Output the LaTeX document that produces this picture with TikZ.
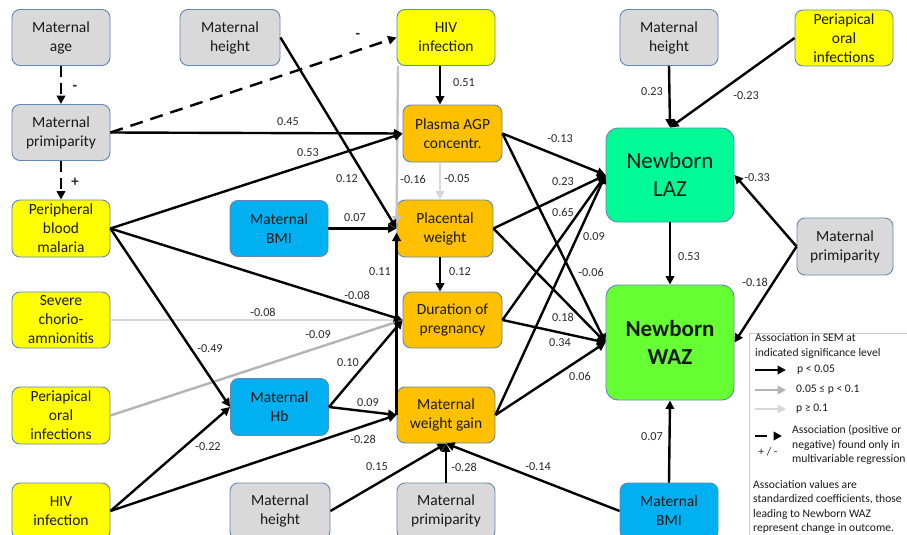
\documentclass[tikz,border=0pt]{standalone}
\usepackage{fontspec}
\setmainfont{Carlito}
\usetikzlibrary{arrows.meta}
\definecolor{cgray}{RGB}{217,217,217}
\definecolor{cyel}{RGB}{255,255,0}
\definecolor{corange}{RGB}{255,192,0}
\definecolor{cblue}{RGB}{0,176,240}
\definecolor{claz}{RGB}{0,250,150}
\definecolor{cwaz}{RGB}{102,255,51}
\definecolor{cbord}{RGB}{100,135,180}
\definecolor{ctext}{RGB}{25,25,25}
\definecolor{clab}{RGB}{40,40,40}
\definecolor{gmed}{RGB}{180,180,180}
\definecolor{gmid}{RGB}{196,196,196}
\definecolor{glight}{RGB}{216,216,216}
\definecolor{legbd}{RGB}{200,200,200}
\newcommand{\mynodefont}{\fontsize{15.5}{19}\selectfont}
\newcommand{\mybigfont}{\fontsize{23}{28}\selectfont}
\newcommand{\mylabfont}{\fontsize{12.2}{14}\selectfont}
\newcommand{\mylegfont}{\fontsize{11.6}{14}\selectfont}
\tikzset{
  box/.style={rounded corners=8pt, draw=cbord, line width=0.9pt, minimum width=98pt, minimum height=56pt, align=center, font=\mynodefont, text=ctext, inner sep=1pt},
  gbox/.style={box, fill=cgray},
  ybox/.style={box, fill=cyel},
  obox/.style={box, fill=corange},
  bbox/.style={box, fill=cblue},
  arr/.style={line width=2.4pt, -{Triangle[length=8.5pt,width=8.5pt]}},
  darr/.style={arr, dash pattern=on 11pt off 6pt},
  ldarr/.style={arr, dash pattern=on 13pt off 8pt},
  lab/.style={font=\mylabfont, text=clab, inner sep=0pt},
  legt/.style={font=\mylegfont, text=ctext, inner sep=0pt, anchor=west},
}
\begin{document}
\begin{tikzpicture}[x=1pt,y=-1pt]
\useasboundingbox (0,0) rectangle (907,535);
\fill[white] (0,0) rectangle (907,535);
% left column
\node[gbox] (age) at (61,37.5) {Maternal\\age};
\node[gbox] (prim1) at (61,132.5) {Maternal\\primiparity};
\node[ybox, minimum height=57pt] (mal) at (61,228.5) {Peripheral\\blood\\malaria};
\node[ybox] (chor) at (61,320) {Severe\\chorio-\\amnionitis};
\node[ybox, minimum height=57pt] (peri1) at (61,415.5) {Periapical\\oral\\infections};
\node[ybox] (hiv1) at (61,511) {HIV\\infection};
% second column
\node[gbox, minimum width=100pt] (ht1) at (230,37.5) {Maternal\\height};
\node[bbox] (bmi1) at (279,228.5) {Maternal\\BMI};
\node[bbox, minimum height=57pt] (hb) at (279.5,407) {Maternal\\Hb};
\node[gbox, minimum width=100pt] (ht2) at (280,511) {Maternal\\height};
% third column
\node[ybox] (hiv2) at (446,37.5) {HIV\\infection};
\node[obox, minimum width=99pt, minimum height=57pt] (agp) at (452.5,133.5) {Plasma AGP\\concentr.};
\node[obox, minimum width=96pt, minimum height=57pt] (plac) at (445,228.5) {Placental\\weight};
\node[obox, minimum width=99pt] (dur) at (452.5,320) {Duration of\\pregnancy};
\node[obox] (wg) at (446,415) {Maternal\\weight gain};
\node[gbox] (prim2) at (446,511) {Maternal\\primiparity};
% outcome column
\node[gbox] (ht3) at (669,37.5) {Maternal\\height};
\node[box, fill=claz, minimum width=128pt, minimum height=94pt, font=\mybigfont, rounded corners=12pt] (laz) at (670,175) {Newborn\\LAZ};
\node[box, fill=cwaz, minimum width=128pt, minimum height=115pt, font=\mybigfont\bfseries, rounded corners=12pt] (waz) at (670,342.5) {Newborn\\WAZ};
\node[bbox] (bmi2) at (669,511) {Maternal\\BMI};
% right column
\node[ybox] (peri2) at (844,38) {Periapical\\oral\\infections};
\node[gbox, minimum width=96pt, minimum height=57pt] (prim3) at (845,246.5) {Maternal\\primiparity};
% helper coordinates for vertical connectors
\coordinate (x440) at (440,0);
\coordinate (x398) at (398,0);
% dashed connectors
\draw[darr] (age) -- (prim1);
\draw[darr] (prim1) -- (mal);
\draw[ldarr] (prim1.east) -- (hiv2.west);
% grey connectors
\draw[arr, gmid] (x398 |- hiv2.south) -- ([yshift=4pt]plac.west);
\draw[arr, glight] (x440 |- agp.south) -- (x440 |- plac.north);
\draw[arr, glight] (chor.east) -- (dur.west);
\draw[arr, gmed] (peri1.east) -- (dur.west);
% black connectors
\draw[arr] (prim1.east) -- (agp.west);
\draw[arr] (mal.east) -- (agp.west);
\draw[arr] (ht1.east) -- (plac.west);
\draw[arr] (bmi1.east) -- (plac.west);
\draw[arr] (mal.east) -- (dur.west);
\draw[arr] (mal.east) -- (hb.west);
\draw[arr] (hb.east) -- (dur.west);
\draw[arr] (hb.east) -- (wg.west);
\draw[arr] (hiv1.east) -- (hb.west);
\draw[arr] (hiv1.east) -- (wg.west);
\draw[arr] (wg.west) -- ([yshift=-4pt]plac.west);
\draw[arr] (ht2.east) -- (wg.south);
\draw[arr] (prim2.north) -- (wg.south);
\draw[arr] (bmi2.west) -- (wg.south);
\draw[arr] (x440 |- hiv2.south) -- (x440 |- agp.north);
\draw[arr] (x440 |- plac.south) -- (x440 |- dur.north);
\draw[arr] (agp.east) -- (laz.west);
\draw[arr] (agp.east) -- (waz.west);
\draw[arr] (plac.east) -- (laz.west);
\draw[arr] (plac.east) -- (waz.west);
\draw[arr] (dur.east) -- (laz.west);
\draw[arr] (dur.east) -- (waz.west);
\draw[arr] (wg.east) -- (laz.west);
\draw[arr] (wg.east) -- (waz.west);
\draw[arr] (laz.south) -- (waz.north);
\draw[arr] (ht3.south) -- (laz.north);
\draw[arr] (peri2.west) -- (laz.north);
\draw[arr] (prim3.west) -- (laz.east);
\draw[arr] (prim3.west) -- (waz.east);
\draw[arr] (bmi2.north) -- (waz.south);
% labels
\node[lab, font=\fontsize{15}{15}\selectfont\bfseries] (s1) at (75,88) {-};
\node[lab, font=\fontsize{15}{15}\selectfont\bfseries] (s2) at (75,182) {+};
\node[lab, font=\fontsize{15}{15}\selectfont\bfseries] (s3) at (358,36) {-};
\node[lab] (n1) at (288,122) {0.45};
\node[lab] (n2) at (308,153) {0.53};
\node[lab] (n3) at (347,179) {0.12};
\node[lab] (n4) at (413,179) {-0.16};
\node[lab] (n5) at (457,179) {-0.05};
\node[lab] (n6) at (355,218) {0.07};
\node[lab] (n7) at (380,272) {0.11};
\node[lab] (n8) at (357,295) {-0.08};
\node[lab] (n9) at (263,312) {-0.08};
\node[lab] (n10) at (318,335) {-0.09};
\node[lab] (n11) at (210,349) {-0.49};
\node[lab] (n12) at (348,363) {0.10};
\node[lab] (n13) at (368,403) {0.09};
\node[lab] (n14) at (363,439) {-0.28};
\node[lab] (n15) at (208,447) {-0.22};
\node[lab] (n16) at (377,467) {0.15};
\node[lab] (n17) at (464,467) {-0.28};
\node[lab] (n18) at (538,467) {-0.14};
\node[lab] (n19) at (464,83) {0.51};
\node[lab] (n20) at (460,272) {0.12};
\node[lab] (n21) at (560,139) {-0.13};
\node[lab] (n22) at (563,182) {0.23};
\node[lab] (n23) at (563,212) {0.65};
\node[lab] (n24) at (594,237) {0.09};
\node[lab] (n25) at (591,272) {-0.06};
\node[lab] (n26) at (563,317) {0.18};
\node[lab] (n27) at (560,343) {0.34};
\node[lab] (n28) at (580,376) {0.06};
\node[lab] (n29) at (652,92) {0.23};
\node[lab] (n30) at (746,96) {-0.23};
\node[lab] (n31) at (757,178) {-0.33};
\node[lab] (n32) at (689,257) {0.53};
\node[lab] (n33) at (755,282) {-0.18};
\node[lab] (n34) at (652,437) {0.07};
% legend
\draw[legbd, line width=0.9pt, fill=white] (749,333) rectangle (920,550);
\node[legt] (lg1) at (755,338) {Association in SEM at};
\node[legt] (lg2) at (755,353) {indicated significance level};
\coordinate (la1) at (755,370); \coordinate (lb1) at (786,370);
\coordinate (la2) at (755,390); \coordinate (lb2) at (786,390);
\coordinate (la3) at (755,409); \coordinate (lb3) at (786,409);
\draw[arr] (la1) -- (lb1);
\draw[arr, gmed] (la2) -- (lb2);
\draw[arr, glight] (la3) -- (lb3);
\node[legt] (lg3) at (797,370) {p < 0.05};
\node[legt] (lg4) at (796,390) {0.05 ≤ p < 0.1};
\node[legt] (lg5) at (796,409) {p ≥ 0.1};
\coordinate (la4) at (755,436); \coordinate (lm4) at (767,436); \coordinate (lb4) at (782,436);
\draw[line width=2.4pt] (la4) -- (lm4);
\draw[arr, shorten <=2pt] ([xshift=5pt]lm4) -- (lb4);
\node[lab, font=\mylegfont] (lg6) at (768,452) {+ / -};
\node[legt] (lg7) at (792,430) {Association (positive or};
\node[legt] (lg8) at (792,445) {negative) found only in};
\node[legt] (lg9) at (792,459) {multivariable regression};
\node[legt] (lg10) at (753,485) {Association values are};
\node[legt] (lg11) at (753,499) {standardized coefficients, those};
\node[legt] (lg12) at (753,514) {leading to Newborn WAZ};
\node[legt] (lg13) at (753,528) {represent change in outcome.};
\end{tikzpicture}
\end{document}
